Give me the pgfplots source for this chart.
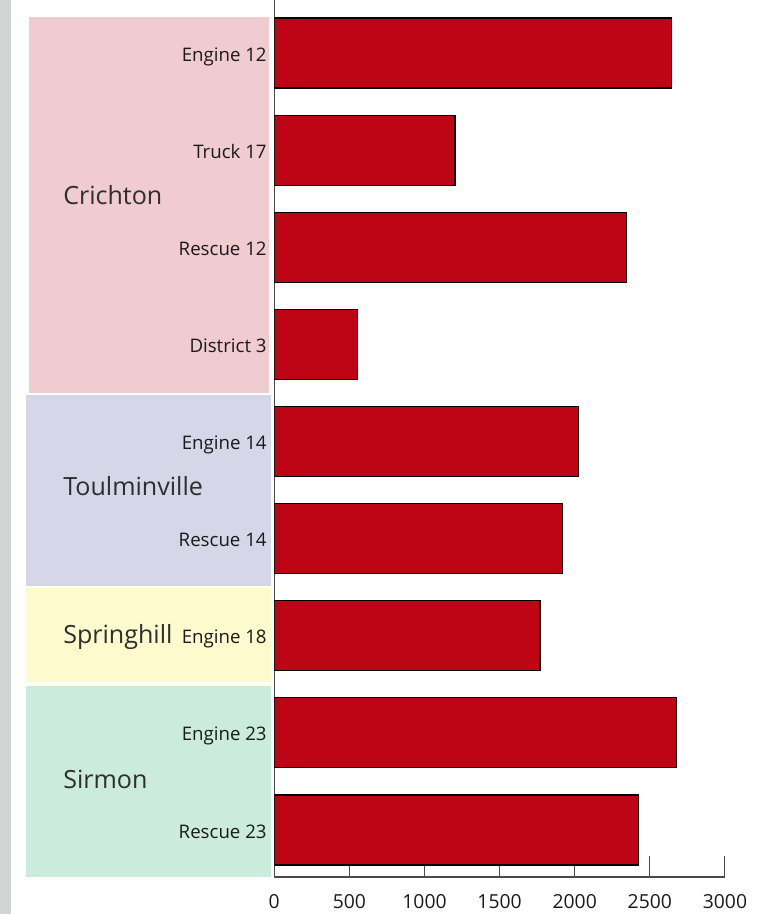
\documentclass[border=0pt]{standalone}
\usepackage{pgfplots}
\pgfplotsset{compat=1.18}
\usepackage{fontspec}
\setmainfont{Open Sans}
\definecolor{barred}{HTML}{BE0515}
\definecolor{stripgrey}{HTML}{D1D5D5}
\definecolor{bandpink}{HTML}{F0CCD0}
\definecolor{bandblue}{HTML}{D5D6E8}
\definecolor{bandyellow}{HTML}{FEFBCF}
\definecolor{bandgreen}{HTML}{CBEBDC}
\definecolor{grouptext}{HTML}{2E2E2E}
\definecolor{labeltext}{HTML}{1A1A1A}
\definecolor{axisgray}{HTML}{4A4A4A}
\begin{document}
\begin{tikzpicture}
\path[use as bounding box] (0,0) rectangle (573.75pt,-685.5pt);
\begin{scope}[x=0.75pt,y=-0.75pt]
\fill[stripgrey] (0,0) rectangle (11,914);
\fill[bandpink] (29,17) rectangle (269,393);
\fill[bandblue] (26,395) rectangle (271,586);
\fill[bandyellow] (26,588) rectangle (271,682);
\fill[bandgreen] (26,686) rectangle (271,877);
\begin{scope}[every node/.style={anchor=base west, inner sep=0pt, text=grouptext, font=\fontsize{18.8}{20}\selectfont}]
\node at (63,204) {Crichton};
\node at (63,495) {Toulminville};
\node at (63,643) {Springhill};
\node at (63,788) {Sirmon};
\end{scope}
\end{scope}
\begin{axis}[
  at={(205.7pt,-657.75pt)}, anchor=south west,
  scale only axis, width=338pt, height=657.75pt,
  xbar, bar width=52.5pt,
  xmin=0, xmax=3000, ymin=0.516, ymax=9.546,
  axis x line*=bottom, axis y line*=left,
  axis line style={-, draw=axisgray, line width=0.8pt},
  tick align=inside, major tick length=15.75pt,
  xtick={0,500,1000,1500,2000,2500,3000},
  xticklabels={0,500,1000,1500,2000,2500,3000},
  scaled x ticks=false,
  xtick style={draw=axisgray, line width=0.8pt},
  xticklabel style={anchor=base, inner sep=0pt, yshift=-23.25pt, font=\fontsize{14.5}{16}\selectfont, text=labeltext},
  ytick={1,2,3,4,5,6,7,8,9},
  yticklabels={Rescue 23,Engine 23,Engine 18,Rescue 14,Engine 14,District 3,Rescue 12,Truck 17,Engine 12},
  ytick style={draw=none},
  yticklabel style={anchor=base east, inner sep=0pt, xshift=-5.5pt, yshift=-6pt, font=\fontsize{14}{16}\selectfont, text=labeltext},
]
\addplot[fill=barred, draw=black, line width=0.8pt] coordinates {
(2425,1) (2678,2) (1769,3) (1920,4) (2028,5) (557,6) (2346,7) (1203,8) (2647,9)
};
\end{axis}
\end{tikzpicture}
\end{document}
